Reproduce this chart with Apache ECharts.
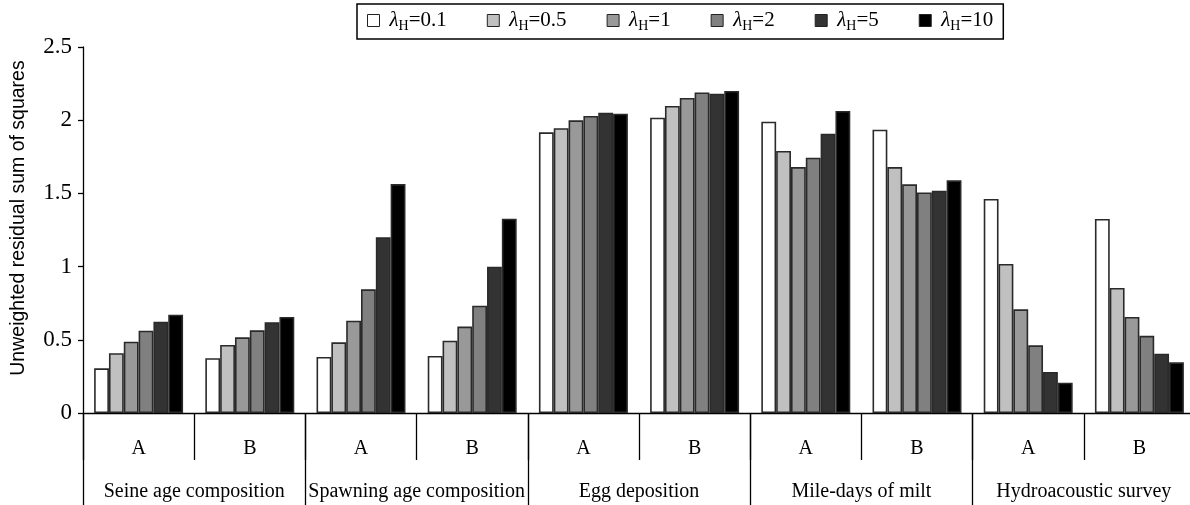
<!DOCTYPE html>
<html>
<head>
<meta charset="utf-8">
<script src="https://cdn.jsdelivr.net/npm/echarts@6/dist/echarts.min.js"></script>
<style>
  html, body { margin: 0; padding: 0; background: #fff; }
  #chart { width: 1190px; height: 505px; }
</style>
</head>
<body>
<div id="chart"></div>
<script>
// sub-categories (A/B) and the five data sources
const subCats = ['A', 'B', 'A', 'B', 'A', 'B', 'A', 'B', 'A', 'B'];
const groups = ['Seine age composition', 'Spawning age composition', 'Egg deposition', 'Mile-days of milt', 'Hydroacoustic survey'];
const lambdas = ['0.1', '0.5', '1', '2', '5', '10'];
const barColors = ['#ffffff', '#c0c0c0', '#999999', '#808080', '#333333', '#000000'];
const yTicks = [0, 0.5, 1, 1.5, 2, 2.5];

// residual sum of squares per lambda_H
const lam01 = [0.305, 0.374, 0.383, 0.390, 1.917, 2.017, 1.990, 1.935, 1.462, 1.325];
const lam05 = [0.408, 0.465, 0.483, 0.494, 1.945, 2.097, 1.790, 1.680, 1.018, 0.854];
const lam1 = [0.487, 0.517, 0.630, 0.590, 1.999, 2.152, 1.680, 1.562, 0.708, 0.656];
const lam2 = [0.562, 0.565, 0.845, 0.733, 2.029, 2.190, 1.744, 1.507, 0.462, 0.527];
const lam5 = [0.624, 0.620, 1.200, 0.999, 2.051, 2.181, 1.908, 1.518, 0.280, 0.405];
const lam10 = [0.671, 0.656, 1.564, 1.327, 2.044, 2.200, 2.063, 1.589, 0.207, 0.346];
const seriesData = [lam01, lam05, lam1, lam2, lam5, lam10];

const serif = "'Liberation Serif', 'Times New Roman', serif";
const sans = "'Liberation Sans', Arial, sans-serif";

const chart = echarts.init(document.getElementById('chart'), null, { renderer: 'canvas' });

const series = seriesData.map((d, i) => ({
  name: 'λH=' + lambdas[i],
  type: 'bar',
  data: d,
  barGap: '0%',
  barCategoryGap: '20%',
  itemStyle: { color: barColors[i], borderColor: '#2a2a2a', borderWidth: 1.6 },
  emphasis: { disabled: true },
}));

chart.setOption({
  animation: false,
  backgroundColor: '#fff',
  textStyle: { fontFamily: serif },
  legend: {
    left: 357,
    top: 4,
    padding: [6, 10, 6, 10],
    itemGap: 40,
    itemWidth: 12,
    itemHeight: 12,
    icon: 'rect',
    borderColor: '#000',
    borderWidth: 1.5,
    itemStyle: { borderColor: '#222', borderWidth: 1 },
    formatter: (name) => '{l|λ}{s|H}{n|=' + name.split('=')[1] + '}',
    textStyle: {
      fontFamily: serif,
      color: '#000',
      rich: {
        l: { fontFamily: serif, fontStyle: 'italic', fontSize: 21, color: '#000', padding: [0, 0, 0, 5] },
        s: { fontFamily: serif, fontSize: 14, color: '#000', padding: [11, 0, 0, 0] },
        n: { fontFamily: serif, fontSize: 21, color: '#000' },
      },
    },
  },
  grid: { left: 83, top: 47, width: 1112, bottom: 92, containLabel: false, outerBoundsMode: 'none' },
  xAxis: [
    {
      type: 'category',
      data: subCats,
      position: 'bottom',
      axisLine: { show: true, lineStyle: { color: '#000', width: 1.3 } },
      axisTick: { show: true, interval: 0, length: 47, lineStyle: { color: '#000', width: 1.3 } },
      axisLabel: { interval: 0, margin: 26, fontFamily: serif, fontSize: 20, color: '#000' },
      splitLine: { show: false },
    },
    {
      type: 'category',
      data: groups,
      position: 'bottom',
      axisLine: { show: false },
      axisTick: { show: true, interval: 0, length: 92, lineStyle: { color: '#000', width: 1.3 } },
      axisLabel: { interval: 0, margin: 69, fontFamily: serif, fontSize: 20, color: '#000' },
      splitLine: { show: false },
    },
  ],
  yAxis: {
    type: 'value',
    min: 0,
    max: yTicks[yTicks.length - 1],
    interval: 0.5,
    name: 'Unweighted residual sum of squares',
    nameLocation: 'middle',
    nameGap: 54,
    nameMoveOverlap: false,
    nameTextStyle: { fontFamily: sans, fontSize: 19.5, color: '#000', padding: [0, 0, 0, 24] },
    axisLine: { show: true, lineStyle: { color: '#000', width: 1.3 } },
    axisTick: { show: true, length: 5, lineStyle: { color: '#000', width: 1.3 } },
    axisLabel: {
      fontFamily: serif, fontSize: 23, color: '#000', margin: 11,
      formatter: (v) => String(v),
    },
    splitLine: { show: false },
  },
  series: series,
});
</script>
</body>
</html>
